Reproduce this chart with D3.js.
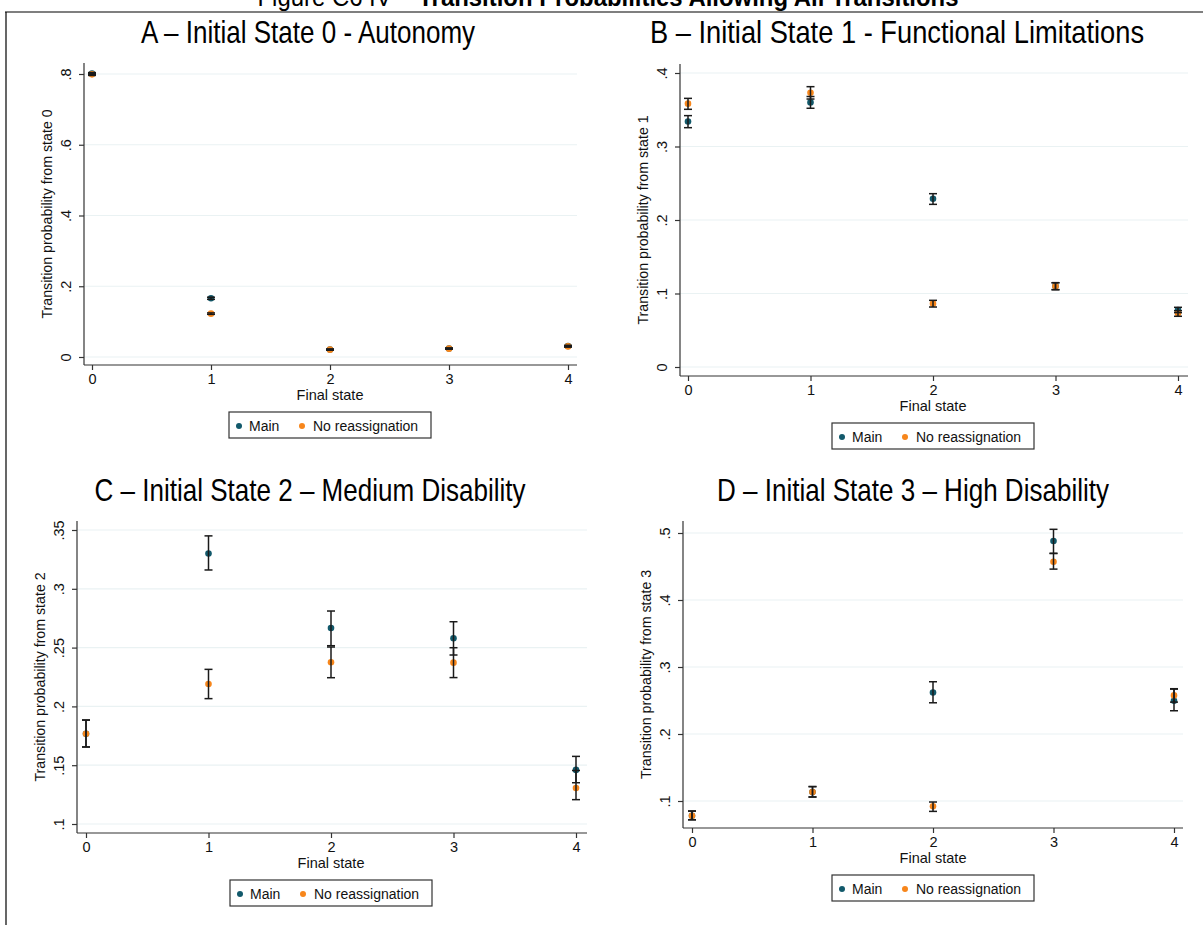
<!DOCTYPE html>
<html lang="en">
<head>
  <meta charset="UTF-8">
  <title>Transition Probabilities Allowing All Transitions</title>
  <script src="https://d3js.org/d3.v7.min.js"></script>
  <style>
    body { margin: 0; padding: 0; background: #fff; }
    svg { display: block; font-family: 'Liberation Sans', Arial, sans-serif; }
    .ptitle { font-family: 'Liberation Sans Narrow', 'Arial Narrow', 'Liberation Sans', sans-serif; }
    .grid line { stroke: #eaf2f3; stroke-width: 1.2; }
    .axis path, .axis line { stroke: #333; stroke-width: 1.2; }
  </style>
</head>
<body>
  <script>
    // final states on the x axis
    var states = [0, 1, 2, 3, 4];
    var seriesNames = ["Main", "No reassignation"];
    var seriesColors = ["#12596b", "#f7861b"];

    var panelTitles = [
      "A \u2013 Initial State 0 - Autonomy",
      "B \u2013 Initial State 1 - Functional Limitations",
      "C \u2013 Initial State 2 \u2013 Medium Disability",
      "D \u2013 Initial State 3 \u2013 High Disability"
    ];
    var yTitles = [
      "Transition probability from state 0",
      "Transition probability from state 1",
      "Transition probability from state 2",
      "Transition probability from state 3"
    ];
    var yTicks = [
      [0, 0.2, 0.4, 0.6, 0.8],
      [0, 0.1, 0.2, 0.3, 0.4],
      [0.1, 0.15, 0.2, 0.25, 0.3, 0.35],
      [0.1, 0.2, 0.3, 0.4, 0.5]
    ];

    // Main: estimate, lower, upper
    var mainEst = [
      [0.801, 0.166, 0.021, 0.024, 0.031],
      [0.334, 0.360, 0.229, 0.110, 0.0776],
      [0.1768, 0.330, 0.2667, 0.2579, 0.146],
      [0.078, 0.1135, 0.262, 0.488, 0.2496]
    ];
    var mainLo = [
      [0.798, 0.163, 0.0195, 0.0225, 0.029],
      [0.3256, 0.352, 0.2213, 0.1052, 0.074],
      [0.1655, 0.316, 0.2516, 0.2437, 0.1351],
      [0.072, 0.106, 0.2466, 0.4695, 0.2347]
    ];
    var mainHi = [
      [0.804, 0.169, 0.0225, 0.0255, 0.033],
      [0.342, 0.368, 0.2358, 0.1147, 0.0812],
      [0.1884, 0.345, 0.2811, 0.272, 0.1575],
      [0.085, 0.1215, 0.278, 0.5055, 0.267]
    ];
    // No reassignation: estimate, lower, upper
    var nrEst = [
      [0.799, 0.1226, 0.0208, 0.0236, 0.030],
      [0.3583, 0.3732, 0.0862, 0.1098, 0.073],
      [0.1768, 0.219, 0.2375, 0.2372, 0.1306],
      [0.078, 0.1135, 0.092, 0.457, 0.2576]
    ];
    var nrLo = [
      [0.796, 0.1206, 0.0193, 0.0221, 0.028],
      [0.3506, 0.3646, 0.0816, 0.1052, 0.069],
      [0.1655, 0.2066, 0.2244, 0.2245, 0.1207],
      [0.072, 0.106, 0.0845, 0.4461, 0.2476]
    ];
    var nrHi = [
      [0.802, 0.1246, 0.0223, 0.0251, 0.032],
      [0.3655, 0.3814, 0.0907, 0.1147, 0.0766],
      [0.1884, 0.2315, 0.2505, 0.2499, 0.1455],
      [0.085, 0.1215, 0.0985, 0.4696, 0.2676]
    ];

    // panel layout in page pixels
    var layout = [
      { xl: 84,  xr: 577,  x0: 92,  x4: 568,  yb: 365, yt: 63,  y0: 357, y1: 74,  tx: 308, ty: 43, ts: 0.84 },
      { xl: 680, xr: 1188, x0: 688, x4: 1178, yb: 376, yt: 64,  y0: 367, y1: 73,  tx: 897, ty: 43, ts: 0.88 },
      { xl: 77,  xr: 587,  x0: 86,  x4: 576,  yb: 833, yt: 521, y0: 824, y1: 530, tx: 310, ty: 501, ts: 0.84 },
      { xl: 683, xr: 1183, x0: 692, x4: 1174, yb: 828, yt: 521, y0: 801, y1: 533, tx: 913, ty: 501, ts: 0.84 }
    ];

    var svg = d3.select("body").append("svg")
        .attr("width", 1203)
        .attr("height", 925);

    // figure title, clipped at the top of the page as in the source
    var ft = svg.append("text")
        .attr("transform", "translate(608,6) scale(0.92,1)")
        .attr("text-anchor", "middle")
        .style("font-size", "26px");
    ft.append("tspan").text("Figure C6 IV \u2013 ");
    ft.append("tspan").attr("font-weight", "bold").text("Transition Probabilities Allowing All Transitions");

    // frame lines
    svg.append("line").attr("x1", 5).attr("x2", 1203).attr("y1", 12).attr("y2", 12)
        .attr("stroke", "#000").attr("stroke-width", 1.2);
    svg.append("line").attr("x1", 6).attr("x2", 6).attr("y1", 12).attr("y2", 925)
        .attr("stroke", "#000").attr("stroke-width", 1.2);

    layout.forEach(function(L, p) {
      var ticks = yTicks[p];
      var x = d3.scaleLinear().domain([0, 4]).range([L.x0, L.x4]);
      var y = d3.scaleLinear().domain([ticks[0], ticks[ticks.length - 1]]).range([L.y0, L.y1]);
      var g = svg.append("g");
      var cx = (L.x0 + L.x4) / 2;

      // panel title (condensed like Arial Narrow)
      g.append("text")
          .attr("class", "ptitle")
          .attr("transform", "translate(" + L.tx + "," + L.ty + ") scale(" + L.ts + ",1)")
          .attr("text-anchor", "middle")
          .style("font-size", "31px")
          .attr("fill", "#000")
          .text(panelTitles[p]);

      // grid
      g.append("g").attr("class", "grid")
        .selectAll("line").data(ticks).enter().append("line")
          .attr("x1", L.xl).attr("x2", L.xr)
          .attr("y1", function(d) { return y(d); })
          .attr("y2", function(d) { return y(d); });

      // y axis
      var yAxis = d3.axisLeft(y).tickValues(ticks).tickSize(5)
          .tickFormat(function(d) { return d === 0 ? "0" : d3.format(".2~f")(d).replace(/^0/, ""); });
      var ya = g.append("g").attr("class", "axis")
          .attr("transform", "translate(" + L.xl + ",0)")
          .call(yAxis);
      ya.select(".domain").attr("d", "M0," + L.yt + "V" + L.yb);
      ya.selectAll(".tick text")
          .attr("x", 0).attr("dy", null).attr("y", 0)
          .attr("transform", "translate(-13,0) rotate(-90)")
          .attr("text-anchor", "middle")
          .style("font-size", "14.5px").style("font-family", "'Liberation Sans', Arial, sans-serif")
          .attr("fill", "#111");

      // x axis
      var xa = g.append("g").attr("class", "axis")
          .attr("transform", "translate(0," + L.yb + ")")
          .call(d3.axisBottom(x).tickValues(states).tickSize(5).tickFormat(d3.format("d")));
      xa.select(".domain").attr("d", "M" + L.xl + ",0H" + L.xr);
      xa.selectAll(".tick text")
          .attr("y", 9)
          .style("font-size", "14.5px").style("font-family", "'Liberation Sans', Arial, sans-serif")
          .attr("fill", "#111");

      // axis titles
      g.append("text")
          .attr("transform", "translate(" + (L.xl - 32) + "," + ((L.yt + L.yb) / 2) + ") rotate(-90)")
          .attr("text-anchor", "middle")
          .style("font-size", "14.2px")
          .attr("fill", "#111")
          .text(yTitles[p]);
      g.append("text")
          .attr("x", cx)
          .attr("y", L.yb + 35)
          .attr("text-anchor", "middle")
          .style("font-size", "14.5px")
          .attr("fill", "#111")
          .text("Final state");

      // points then error bars
      var series = [
        { est: mainEst[p], lo: mainLo[p], hi: mainHi[p], color: seriesColors[0] },
        { est: nrEst[p], lo: nrLo[p], hi: nrHi[p], color: seriesColors[1] }
      ];
      series.forEach(function(s) {
        g.append("g").selectAll("circle").data(states).enter().append("circle")
            .attr("cx", function(d) { return x(d); })
            .attr("cy", function(d, i) { return y(s.est[i]); })
            .attr("r", 3.3)
            .attr("fill", s.color);
      });
      series.forEach(function(s) {
        var eb = g.append("g").attr("stroke", "#1a1a1a").attr("stroke-width", 1.5);
        eb.selectAll("line.v").data(states).enter().append("line")
            .attr("x1", function(d) { return x(d); })
            .attr("x2", function(d) { return x(d); })
            .attr("y1", function(d, i) { return y(s.lo[i]); })
            .attr("y2", function(d, i) { return y(s.hi[i]); });
        ["lo", "hi"].forEach(function(k) {
          eb.selectAll("line." + k).data(states).enter().append("line")
              .attr("x1", function(d) { return x(d) - 4; })
              .attr("x2", function(d) { return x(d) + 4; })
              .attr("y1", function(d, i) { return y(s[k][i]); })
              .attr("y2", function(d, i) { return y(s[k][i]); });
        });
      });

      // legend
      var lw = 202, lh = 26;
      var lg = g.append("g").attr("transform", "translate(" + (cx - lw / 2) + "," + (L.yb + 47) + ")");
      lg.append("rect").attr("width", lw).attr("height", lh)
          .attr("fill", "#fff").attr("stroke", "#333").attr("stroke-width", 1.2);
      var items = [{ dx: 10, tx: 20 }, { dx: 73, tx: 84 }];
      items.forEach(function(it, i) {
        lg.append("circle").attr("cx", it.dx).attr("cy", lh / 2 + 1).attr("r", 3).attr("fill", seriesColors[i]);
        lg.append("text").attr("x", it.tx).attr("y", lh / 2 + 6)
            .style("font-size", "14px").attr("fill", "#111").text(seriesNames[i]);
      });
    });
  </script>
</body>
</html>
